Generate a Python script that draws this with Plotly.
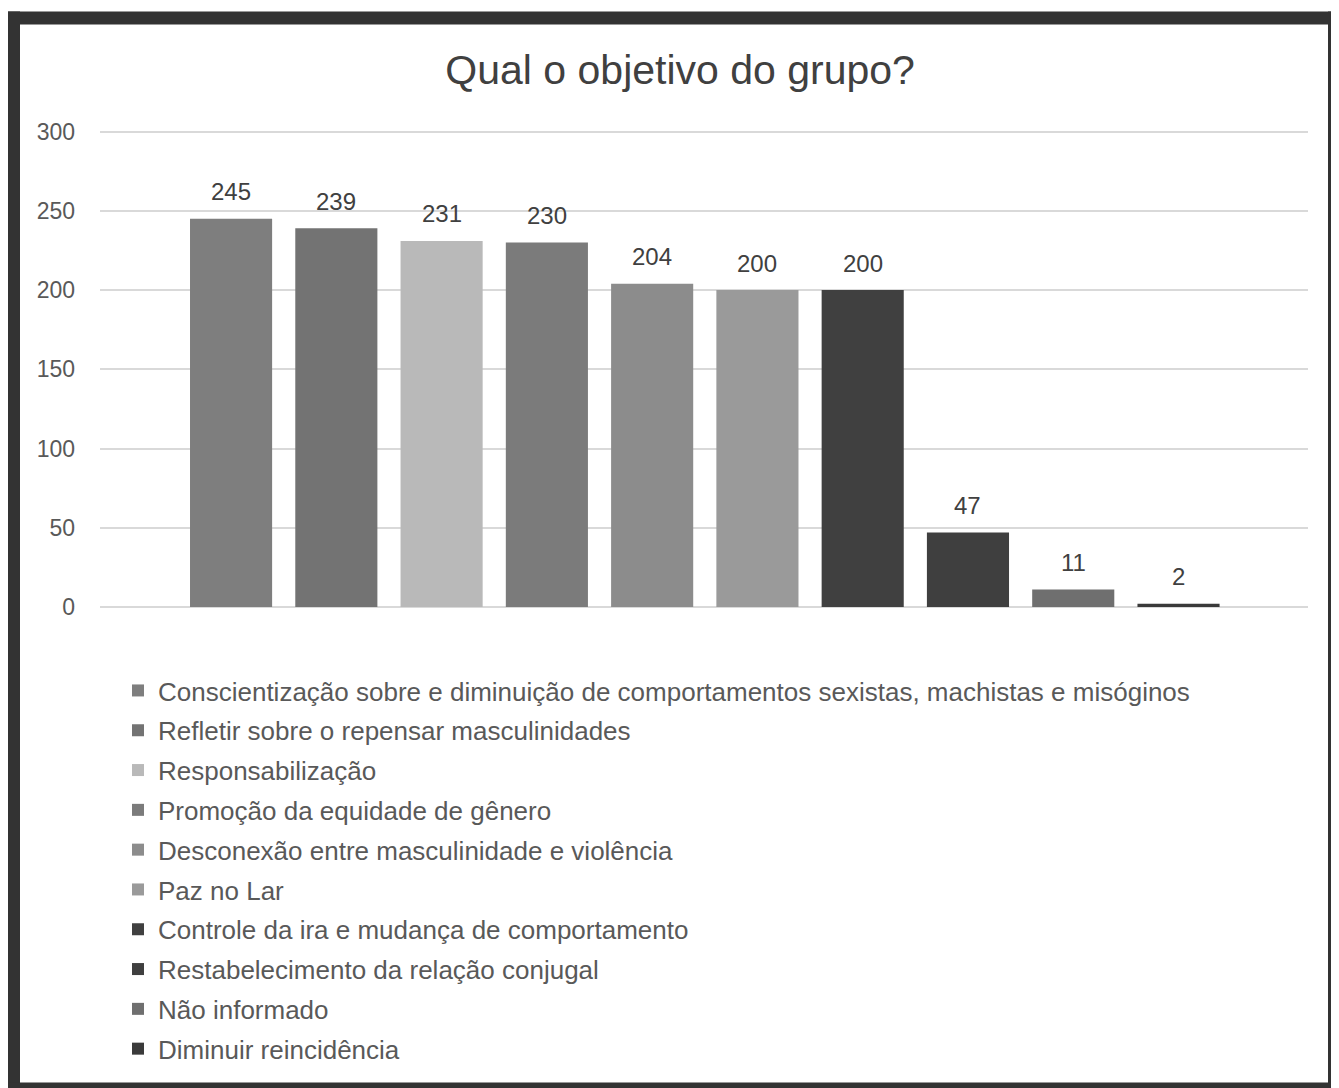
import plotly.graph_objects as go

categories = [
    "Conscientização sobre e diminuição de comportamentos sexistas, machistas e misóginos",
    "Refletir sobre o repensar masculinidades",
    "Responsabilização",
    "Promoção da equidade de gênero",
    "Desconexão entre masculinidade e violência",
    "Paz no Lar",
    "Controle da ira e mudança de comportamento",
    "Restabelecimento da relação conjugal",
    "Não informado",
    "Diminuir reincidência",
]
values = [245, 239, 231, 230, 204, 200, 200, 47, 11, 2]
colors = ["#7e7e7e", "#737373", "#b9b9b9", "#7b7b7b", "#8c8c8c",
          "#9a9a9a", "#404040", "#3f3f3f", "#6f6f6f", "#3a3a3a"]
y_ticks = [0, 50, 100, 150, 200, 250, 300]

FONT = "Liberation Sans, Arial, sans-serif"
TXT = "#595959"

fig = go.Figure()
for i, (name, v, c) in enumerate(zip(categories, values, colors)):
    fig.add_trace(go.Bar(
        x=[i], y=[v], name=name, marker_color=c, marker_line_width=0,
        width=0.78, legendgroup=f"g{i}", hoverinfo="name+y",
    ))
    fig.add_annotation(x=i, y=v, text=str(v), showarrow=False,
                       yanchor="middle", yshift=27,
                       font=dict(size=24, color="#404040", family=FONT))

# Figure is rendered with the page's 8px body margin: coordinates below
# are in figure pixels (page pixels minus 8).
W, H = 1331, 1080
L, R = 92, 1300
Y300, Y0 = 124, 599
YMAX = 301
T = Y0 - (Y0 - Y300) * YMAX / 300

def px(x):
    return (x - L) / (R - L)

def py(y):
    return (Y0 - y) / (Y0 - T)

dark = "#333333"
frame = [
    (0, 4, W, 17),        # top band
    (0, 4, 12, H),        # left band
    (0, 1074, W, H),      # bottom band
    (1320, 4, W, H),      # right line
]
shapes = [dict(type="rect", xref="paper", yref="paper",
               x0=px(a), x1=px(c), y0=py(d), y1=py(b),
               fillcolor=dark, line_width=0, layer="above")
          for a, b, c, d in frame]

fig.update_layout(
    width=W, height=H,
    margin=dict(l=L, r=W - R, t=T, b=H - Y0, pad=0),
    paper_bgcolor="white", plot_bgcolor="white",
    barmode="overlay",
    font=dict(family=FONT, color=TXT),
    title=dict(text="Qual o objetivo do grupo?", x=0.505, xanchor="center",
               y=1 - 62 / H, yanchor="middle",
               font=dict(size=41, color="#404040", family=FONT)),
    xaxis=dict(range=[-1.245, 10.23], showticklabels=False, showgrid=False,
               zeroline=False, showline=False, fixedrange=True),
    yaxis=dict(range=[0, YMAX], tickvals=y_ticks, showgrid=True,
               gridcolor="#d9d9d9", gridwidth=2, zeroline=True,
               zerolinecolor="#d9d9d9", zerolinewidth=2, showline=False,
               ticks="", ticklabelstandoff=24, fixedrange=True,
               tickfont=dict(size=23, color=TXT, family=FONT)),
    legend=dict(orientation="v", x=px(110), xanchor="left",
                y=py(659), yanchor="top", tracegroupgap=3,
                traceorder="grouped",
                font=dict(size=26, color=TXT, family=FONT),
                itemwidth=30, bgcolor="rgba(0,0,0,0)"),
    shapes=shapes,
)

fig.write_html("out.html")
